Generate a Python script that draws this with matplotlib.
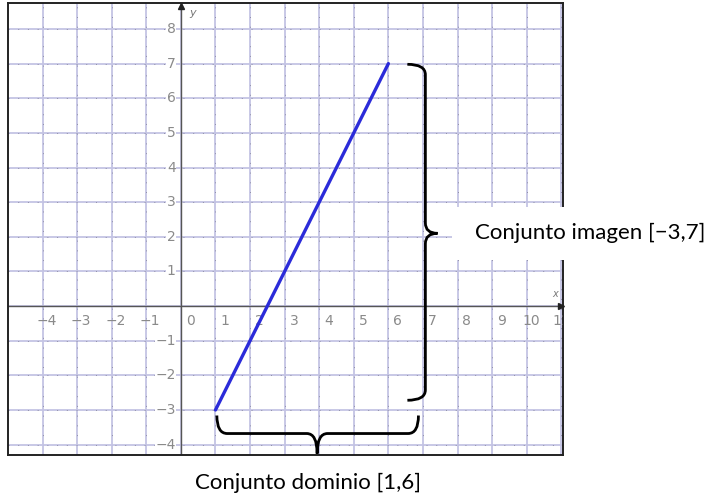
import matplotlib
matplotlib.use("Agg")
import matplotlib.pyplot as plt
from matplotlib.path import Path
from matplotlib.patches import PathPatch, Rectangle

# line segment data (y = 2x - 5 on [1, 6])
seg_x = [1, 6]
seg_y = [-3, 7]

x_ticks = [-4, -3, -2, -1, 0, 1, 2, 3, 4, 5, 6, 7, 8, 9, 10, 11]
y_ticks = [-4, -3, -2, -1, 1, 2, 3, 4, 5, 6, 7, 8]

label_range = "Conjunto imagen [\u22123,7]"
label_domain = "Conjunto dominio [1,6]"

xmin, xmax = -5.0, 11.05
ymin, ymax = -4.3, 8.75

fig = plt.figure(figsize=(7.16, 4.97), dpi=100)
W, H = 716, 497
ax = fig.add_axes([8 / W, (H - 455) / H, (563 - 8) / W, (455 - 3) / H])
ax.set_xlim(xmin, xmax)
ax.set_ylim(ymin, ymax)
ax.set_xticks([])
ax.set_yticks([])
for s in ax.spines.values():
    s.set_color("#222222")
    s.set_linewidth(1.4)

# grid: lavender lines with sparse dark dots
for gx in range(-4, 12):
    ax.axvline(gx, color="#c4c4e4", lw=1.3, zorder=1)
    ax.axvline(gx, color="#9090a8", lw=0.7, ls=(0, (1, 9)), zorder=1)
for gy in range(-4, 9):
    ax.axhline(gy, color="#c4c4e4", lw=1.3, zorder=1)
    ax.axhline(gy, color="#9090a8", lw=0.7, ls=(0, (1, 9)), zorder=1)

# axes with arrows
ax.axhline(0, color="#555555", lw=1.0, zorder=2)
ax.axvline(0, color="#555555", lw=1.0, zorder=2)
ax.plot([xmax - 0.05], [0], marker=">", color="#222222", ms=5, zorder=3, clip_on=False)
ax.plot([0], [ymax - 0.08], marker="^", color="#222222", ms=5, zorder=3, clip_on=False)
ax.text(xmax - 0.22, 0.35, "x", fontsize=7, color="#777777", style="italic", ha="center", va="center")
ax.text(0.35, ymax - 0.3, "y", fontsize=8, color="#777777", style="italic", ha="center", va="center")

# tick labels
for t in x_ticks:
    lab = str(t).replace("-", "\u2212")
    if t == x_ticks[-1]:
        ax.text(t - 0.25, -0.42, lab, fontsize=10, color="#8a8a8a",
                ha="left", va="center", clip_on=True, zorder=4)
    else:
        ax.text(t + 0.4, -0.42, lab, fontsize=10, color="#8a8a8a",
                ha="right", va="center", zorder=4)
for t in y_ticks:
    ax.text(-0.15, t, str(t).replace("-", "\u2212"), fontsize=10, color="#8a8a8a",
            ha="right", va="center", zorder=4,
            bbox=dict(facecolor="white", edgecolor="none", pad=0.5))

# the segment
ax.plot(seg_x, seg_y, color="#2b2bd9", lw=2.4, solid_capstyle="round", zorder=5)


def vbrace(x0, top, bot, mid, hook, tip, r):
    verts = [(x0 - hook, top), (x0, top), (x0, top - r),
             (x0, mid + r),
             (x0, mid), (x0 + tip, mid),
             (x0, mid), (x0, mid - r),
             (x0, bot + r),
             (x0, bot), (x0 - hook, bot)]
    codes = [Path.MOVETO, Path.CURVE3, Path.CURVE3, Path.LINETO,
             Path.CURVE3, Path.CURVE3, Path.CURVE3, Path.CURVE3,
             Path.LINETO, Path.CURVE3, Path.CURVE3]
    return Path(verts, codes)


def hbrace(y0, left, right, mid, hook, tip, r):
    verts = [(left, y0 + hook), (left, y0), (left + r, y0),
             (mid - r, y0),
             (mid, y0), (mid, y0 - tip),
             (mid, y0), (mid + r, y0),
             (right - r, y0),
             (right, y0), (right, y0 + hook)]
    codes = [Path.MOVETO, Path.CURVE3, Path.CURVE3, Path.LINETO,
             Path.CURVE3, Path.CURVE3, Path.CURVE3, Path.CURVE3,
             Path.LINETO, Path.CURVE3, Path.CURVE3]
    return Path(verts, codes)


rb = vbrace(7.07, 6.98, -2.72, 2.1, 0.52, 0.35, 0.3)
ax.add_patch(PathPatch(rb, fill=False, lw=2.0, color="black", zorder=6, clip_on=False))
bb = hbrace(-3.68, 1.04, 6.87, 3.94, 0.52, 0.58, 0.3)
ax.add_patch(PathPatch(bb, fill=False, lw=2.0, color="black", zorder=6, clip_on=False))

# labels
fig.patches.append(Rectangle((452 / W, (H - 260) / H), (716 - 452) / W, 53 / H,
                             transform=fig.transFigure, facecolor="white",
                             edgecolor="none", zorder=10))
fig.text(475 / W, (H - 233) / H, label_range, fontsize=16, family=["Lato", "DejaVu Sans"],
         ha="left", va="center", zorder=11)
fig.text(308 / W, (H - 483) / H, label_domain, fontsize=16, family=["Lato", "DejaVu Sans"],
         ha="center", va="center", zorder=11)

fig.savefig("out.png", dpi=100)
